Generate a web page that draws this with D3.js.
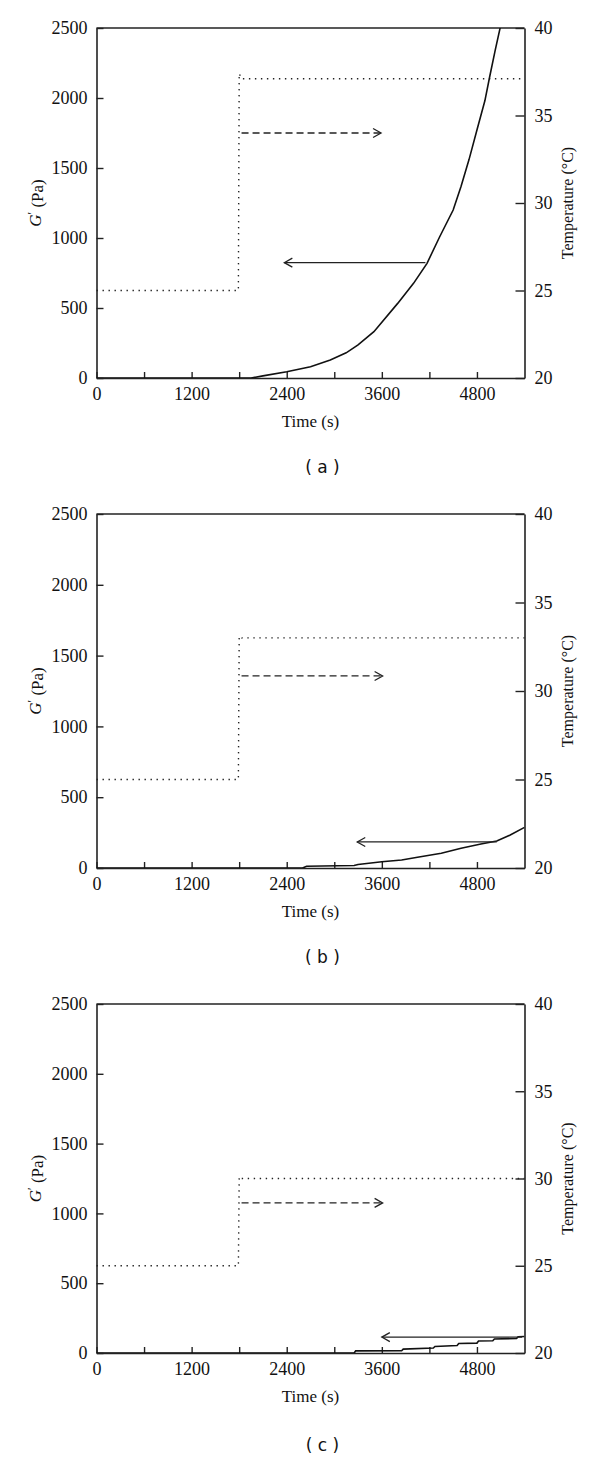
<!DOCTYPE html>
<html>
<head>
<meta charset="utf-8">
<script src="https://cdn.jsdelivr.net/npm/d3@7"></script>
<style>
  body { margin: 0; background: #fff; }
  svg text { font-family: "Liberation Serif", "DejaVu Serif", serif; fill: #111; }
  .panel-tag { font-family: "DejaVu Sans", sans-serif; }
</style>
</head>
<body>
<script>
const width = 600;
const height = 1460;

// time ticks (s), G' ticks (Pa), temperature ticks (degC)
const timeTicks = [0, 600, 1200, 1800, 2400, 3000, 3600, 4200, 4800];
const timeLabels = [0, 1200, 2400, 3600, 4800];
const gTicks = [0, 500, 1000, 1500, 2000, 2500];
const tempTicks = [20, 25, 30, 35, 40];

// G' curves
const timeA = [0, 1950, 2100, 2400, 2700, 2950, 3150, 3300, 3500, 3800, 4000, 4170, 4330, 4500, 4600, 4700, 4800, 4900, 4960, 5030, 5100];
const gA    = [0, 0, 15, 45, 81, 129, 180, 236, 331, 533, 676, 819, 1009, 1200, 1370, 1560, 1771, 1980, 2150, 2340, 2520];

const timeB = [0, 2600, 2650, 3250, 3300, 3600, 3850, 4050, 4350, 4600, 4850, 5050, 5220, 5400];
const gB    = [0, 0, 12, 18, 25, 44, 56, 76, 104, 139, 169, 190, 233, 287];

const timeC = [0, 3250, 3270, 3850, 3870, 4250, 4270, 4550, 4570, 4800, 4820, 5000, 5020, 5300, 5320, 5400];
const gC    = [0, 0, 15, 16, 28, 36, 47, 54, 68, 71, 86, 88, 100, 104, 116, 118];

// temperature programme (dotted)
const tempTime = [0, 1790, 1800, 1830, 5400];
const tempA = [25, 25, 37.4, 37.1, 37.1];
const tempB = [25, 25, 33.1, 33, 33];
const tempC = [25, 25, 30.1, 30, 30];

// annotation arrows: [t from, t to, value]
const solidArrows = [[4150, 2370, 824], [5050, 3290, 184], [5370, 3600, 114]];
const dashedArrows = [[1830, 3590, 34.0], [1830, 3610, 30.85], [1830, 3610, 28.6]];

const panels = [
  { tag: "a", time: timeA, g: gA, temp: tempA, top: 28, bottom: 378, label: 467 },
  { tag: "b", time: timeB, g: gB, temp: tempB, top: 514, bottom: 868, label: 957 },
  { tag: "c", time: timeC, g: gC, temp: tempC, top: 1004, bottom: 1353, label: 1445 }
];

const left = 96.5;
const right = 524.5;

const svg = d3.select("body")
  .append("svg")
  .attr("width", width)
  .attr("height", height);

panels.forEach((p, i) => drawPanel(p, i));

function arrowHead(g, x, y, dir) {
  g.append("path")
    .attr("d", `M${x - dir * 8},${y - 4.5}L${x},${y}L${x - dir * 8},${y + 4.5}`)
    .attr("fill", "none")
    .attr("stroke", "#222")
    .attr("stroke-width", 1.3);
}

function drawPanel(p, i) {
  const g = svg.append("g");

  const x = d3.scaleLinear().domain([0, 5400]).range([left, right]);
  const y = d3.scaleLinear().domain([0, 2500]).range([p.bottom, p.top]);
  const yT = d3.scaleLinear().domain([20, 40]).range([p.bottom, p.top]);

  // bottom axis, ticks pointing inward
  const xAxis = g.append("g")
    .attr("transform", `translate(0,${p.bottom})`)
    .call(d3.axisBottom(x).tickValues(timeTicks).tickSizeInner(-6).tickSizeOuter(0)
      .tickFormat(d => timeLabels.includes(d) ? d : ""));
  xAxis.selectAll("text").attr("dy", "1.05em").style("font-size", "18px");

  const yAxis = g.append("g")
    .attr("transform", `translate(${left},0)`)
    .call(d3.axisLeft(y).tickValues(gTicks).tickFormat(d3.format("d"))
      .tickSizeInner(-7).tickSizeOuter(0).tickPadding(9));
  yAxis.selectAll("text").style("font-size", "18px");

  const tAxis = g.append("g")
    .attr("transform", `translate(${right},0)`)
    .call(d3.axisRight(yT).tickValues(tempTicks).tickSizeInner(-9).tickSizeOuter(0).tickPadding(10));
  tAxis.selectAll("text").style("font-size", "18px");

  [xAxis, yAxis, tAxis].forEach(a => {
    a.select(".domain").attr("stroke", "#222").attr("stroke-width", 1.6);
    a.selectAll(".tick line").attr("stroke", "#222").attr("stroke-width", 1.4);
    a.selectAll(".tick text").attr("fill", "#111");
  });

  // top frame line
  g.append("line")
    .attr("x1", left).attr("x2", right)
    .attr("y1", p.top).attr("y2", p.top)
    .attr("stroke", "#222").attr("stroke-width", 1.6);

  // temperature (dotted)
  const tempLine = d3.line()
    .x(d => x(d[0]))
    .y(d => yT(d[1]));
  g.append("path")
    .attr("d", tempLine(d3.zip(tempTime, p.temp)))
    .attr("fill", "none")
    .attr("stroke", "#222")
    .attr("stroke-width", 1.4)
    .attr("stroke-dasharray", "1.4,4.6");

  // G' (solid), clipped to the frame
  const clipId = "clip-" + p.tag;
  g.append("clipPath").attr("id", clipId)
    .append("rect")
    .attr("x", left).attr("y", p.top)
    .attr("width", right - left).attr("height", p.bottom - p.top);

  const gLine = d3.line()
    .x(d => x(d[0]))
    .y(d => y(d[1]));
  g.append("path")
    .attr("d", gLine(d3.zip(p.time, p.g)))
    .attr("clip-path", `url(#${clipId})`)
    .attr("fill", "none")
    .attr("stroke", "#111")
    .attr("stroke-width", 1.6);

  // arrows
  const sa = solidArrows[i];
  g.append("line")
    .attr("x1", x(sa[0])).attr("x2", x(sa[1]))
    .attr("y1", y(sa[2])).attr("y2", y(sa[2]))
    .attr("stroke", "#222").attr("stroke-width", 1.2);
  arrowHead(g, x(sa[1]), y(sa[2]), -1);

  const da = dashedArrows[i];
  g.append("line")
    .attr("x1", x(da[0])).attr("x2", x(da[1]))
    .attr("y1", yT(da[2])).attr("y2", yT(da[2]))
    .attr("stroke", "#222").attr("stroke-width", 1.3)
    .attr("stroke-dasharray", "7,4");
  arrowHead(g, x(da[1]), yT(da[2]), 1);

  // axis titles
  const midY = (p.top + p.bottom) / 2;
  g.append("text")
    .attr("x", (left + right) / 2)
    .attr("y", p.bottom + 49)
    .attr("text-anchor", "middle")
    .style("font-size", "17px")
    .text("Time (s)");

  const gl = g.append("text")
    .attr("transform", `translate(41,${midY}) rotate(-90)`)
    .attr("text-anchor", "middle")
    .style("font-size", "17px");
  gl.append("tspan").style("font-style", "italic").text("G");
  gl.append("tspan").attr("dy", "-0.4em").style("font-size", "12px").text("′");
  gl.append("tspan").attr("dy", "0.4em").text(" (Pa)");

  g.append("text")
    .attr("transform", `translate(573,${midY}) rotate(-90)`)
    .attr("text-anchor", "middle")
    .style("font-size", "16px")
    .text("Temperature (°C)");

  g.append("text")
    .attr("class", "panel-tag")
    .attr("x", (left + right) / 2 + 12)
    .attr("y", p.label + 6)
    .attr("text-anchor", "middle")
    .style("font-size", "17px")
    .text(`( ${p.tag} )`);
}
</script>
</body>
</html>
